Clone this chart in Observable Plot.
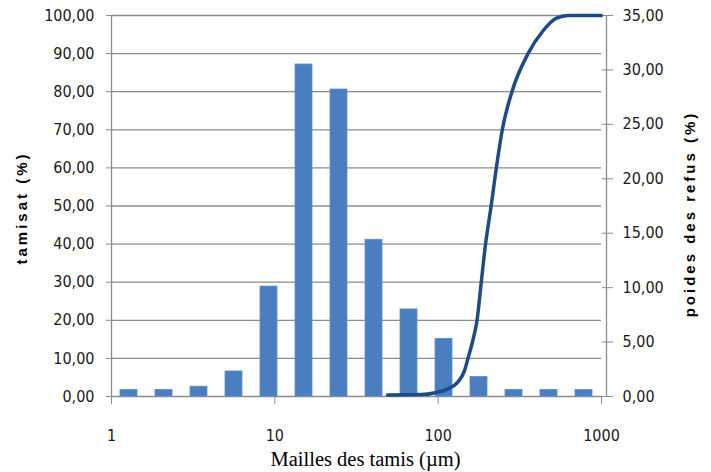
<!DOCTYPE html>
<html><head><meta charset="utf-8">
<script src="https://cdn.jsdelivr.net/npm/d3@7"></script>
<script src="https://cdn.jsdelivr.net/npm/@observablehq/plot@0.6"></script>
<style>
body{margin:0;background:#fff;}
#chart{position:relative;width:711px;height:472px;background:#fff;}
#chart svg{position:absolute;left:0;top:0;}
</style></head><body><div id="chart"></div>
<script>
// sieve classes (categorical bars, evenly spaced)
const categories = ["c1","c2","c3","c4","c5","c6","c7","c8","c9","c10","c11","c12","c13","c14"];
// poids des refus (%) – right axis
const refus = [0.6, 0.6, 0.9, 2.3, 10.1, 30.5, 28.2, 14.4, 8.0, 5.3, 1.8, 0.6, 0.6, 0.6];
// cumulative curve: mesh size (µm) and tamisat (%) – left axis
const curveSize = [49, 79, 96, 112, 132, 145, 152, 163, 173, 183.6, 195, 211, 227, 247, 283, 355, 439, 530, 625, 1000];
const curveTamisat = [0.4, 0.5, 1.0, 1.8, 3.8, 6.8, 9.9, 14.7, 20, 30, 40, 50, 60, 70, 80, 90, 96, 99.3, 100, 100];
// tick labels
const xTicks = [1, 10, 100, 1000];
const leftTicks = [0, 10, 20, 30, 40, 50, 60, 70, 80, 90, 100];
const rightTicks = [0, 5, 10, 15, 20, 25, 30, 35];

const W = 711, H = 472;
const M = {marginTop: 15, marginRight: 110, marginBottom: 76, marginLeft: 111};
const fmt = d => d.toFixed(2).replace(".", ",");
const style = {fontFamily: "'DejaVu Sans Condensed', 'DejaVu Sans', sans-serif", fontSize: "16px", color: "#1a1a1a", background: "transparent", overflow: "visible"};
const grid = "#8c8c8c";

const bars = categories.map((c, i) => ({cat: c, v: refus[i]}));
const curve = curveSize.map((s, i) => ({x: s, y: curveTamisat[i]}));

const base = Plot.plot({
  width: W, height: H, ...M, style,
  x: {type: "log", domain: [1, 1000]},
  y: {domain: [0, 100]},
  marks: [
    Plot.ruleY(leftTicks, {stroke: grid, strokeWidth: 1.3}),
    Plot.ruleX([1], {stroke: grid, strokeWidth: 1.3}),
    Plot.ruleX([1000], {stroke: grid, strokeWidth: 1.3, dx: 5}),
    Plot.axisY({ticks: leftTicks, tickFormat: fmt, tickSize: 5, tickPadding: 12, stroke: grid, fill: "#1a1a1a", label: null}),
    Plot.axisX({ticks: xTicks, tickFormat: d => String(d), tickSize: 8, tickPadding: 25, stroke: grid, fill: "#1a1a1a", label: null}),
    Plot.text(["tamisat (%)"], {frameAnchor: "left", textAnchor: "middle", dx: -89, dy: 2, rotate: -90, fontWeight: "bold", fontSize: 15, fontFamily: "'Liberation Sans', Arial, sans-serif", fill: "#000"}),
    Plot.text(["poides des refus (%)"], {frameAnchor: "right", textAnchor: "middle", dx: 89, dy: 8, rotate: -90, fontWeight: "bold", fontSize: 15, fontFamily: "'Liberation Sans', Arial, sans-serif", fill: "#000"}),
    Plot.text(["Mailles des tamis (µm)"], {frameAnchor: "bottom", dx: 9, dy: 69, lineAnchor: "bottom", fontSize: 20.5, fontFamily: "'Liberation Serif', 'Times New Roman', serif", fill: "#000"})
  ]
});
d3.select(base).selectAll("text").filter(function(){ return this.textContent.includes("(%)"); }).style("letter-spacing", "3px");

const barPlot = Plot.plot({
  width: W, height: H, ...M, style,
  x: {type: "band", domain: categories, paddingInner: 0.52, paddingOuter: 0.26, axis: null},
  y: {domain: [0, 35]},
  marks: [
    Plot.barY(bars, {x: "cat", y: "v", fill: "#4a7ebf", stroke: "#5b8fd0", strokeWidth: 0.8}),
    Plot.axisY({anchor: "right", ticks: rightTicks, tickFormat: fmt, tickSize: 11, tickPadding: 10, stroke: grid, fill: "#1a1a1a", label: null})
  ]
});

const linePlot = Plot.plot({
  width: W, height: H, ...M, style,
  x: {type: "log", domain: [1, 1000], axis: null},
  y: {domain: [0, 100], axis: null},
  marks: [
    Plot.line(curve, {x: "x", y: "y", curve: "monotone-x", stroke: "#1f4b85", strokeWidth: 3.5, strokeLinecap: "round"})
  ]
});

const root = document.getElementById("chart");
root.append(base, barPlot, linePlot);
</script></body></html>
